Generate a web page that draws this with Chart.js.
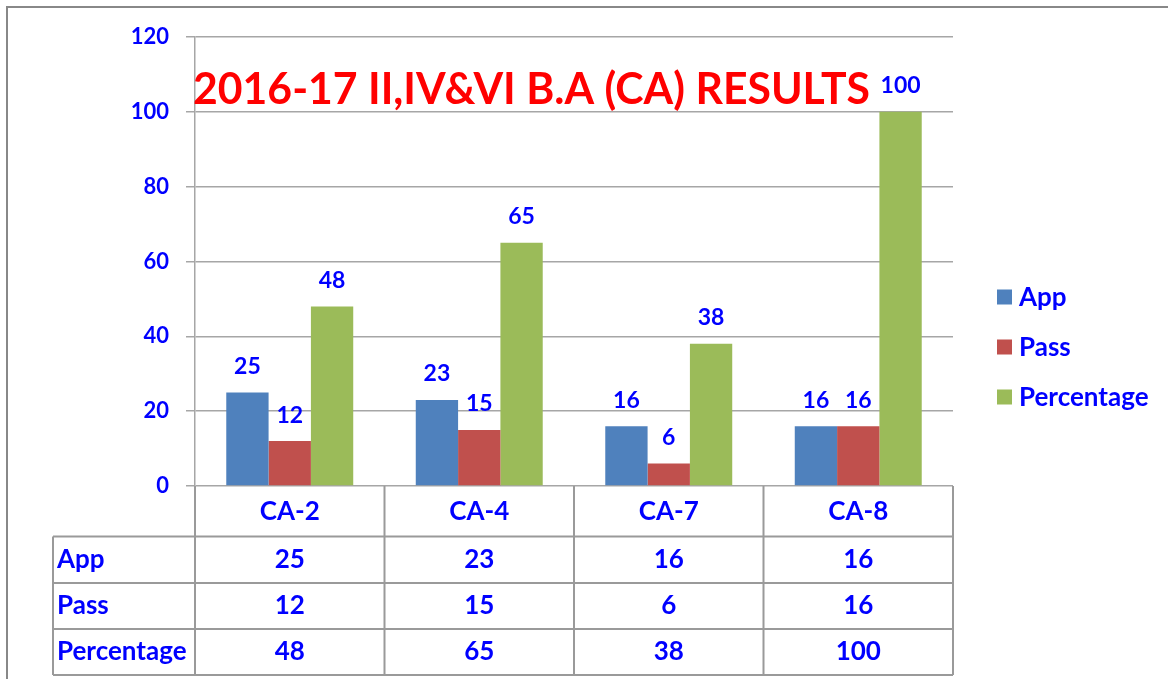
<!DOCTYPE html>
<html>
<head>
<meta charset="utf-8">
<script src="https://cdn.jsdelivr.net/npm/chart.js@4"></script>
<style>
html,body{margin:0;padding:0;background:#fff;}
canvas{display:block;}
</style>
</head>
<body>
<canvas id="c" width="1168" height="679"></canvas>
<script>
const categories = ['CA-2', 'CA-4', 'CA-7', 'CA-8'];
const seriesNames = ['App', 'Pass', 'Percentage'];
const appValues = [25, 23, 16, 16];
const passValues = [12, 15, 6, 16];
const percentageValues = [48, 65, 38, 100];
const yTicks = [0, 20, 40, 60, 80, 100, 120];
const titleText = '2016-17 II,IV&VI B.A (CA) RESULTS';

const FONT = 'Lato, "Open Sans", sans-serif';
const BLUE = '#0000FF';
const GRID = '#A6A6A6';
const TABLE_LINE = '#9A9A9A';

const frame = {
  id: 'frame',
  beforeDraw(chart) {
    const ctx = chart.ctx;
    ctx.save();
    ctx.fillStyle = '#fff';
    ctx.fillRect(0, 0, chart.width, chart.height);
    ctx.strokeStyle = '#888';
    ctx.lineWidth = 2;
    ctx.beginPath();
    ctx.moveTo(7, chart.height);
    ctx.lineTo(7, 7);
    ctx.lineTo(chart.width, 7);
    ctx.stroke();
    ctx.restore();
  }
};

const dataLabels = {
  id: 'dataLabels',
  afterDatasetsDraw(chart) {
    const ctx = chart.ctx;
    ctx.save();
    ctx.fillStyle = BLUE;
    ctx.font = 'bold 23px ' + FONT;
    ctx.textAlign = 'center';
    ctx.textBaseline = 'middle';
    chart.data.datasets.forEach((ds, di) => {
      chart.getDatasetMeta(di).data.forEach((el, i) => {
        ctx.fillText(String(ds.data[i]), el.x, el.y - 26);
      });
    });
    ctx.restore();
  }
};

const titlePlugin = {
  id: 'titlePlugin',
  afterDraw(chart) {
    const ctx = chart.ctx;
    ctx.save();
    ctx.font = 'bold 44px ' + FONT;
    ctx.fillStyle = '#FF0000';
    ctx.textBaseline = 'alphabetic';
    const w = ctx.measureText(titleText).width;
    const target = 677;
    const left = chart.chartArea.left - 2;
    ctx.translate(left, 104);
    ctx.scale(target / w, 1);
    ctx.fillText(titleText, 0, 0);
    ctx.restore();
  }
};

const legendPlugin = {
  id: 'customLegend',
  afterDraw(chart) {
    const ctx = chart.ctx;
    ctx.save();
    ctx.font = 'bold 26px ' + FONT;
    ctx.textBaseline = 'middle';
    ctx.textAlign = 'left';
    const x0 = chart.chartArea.right + 44;
    chart.data.datasets.forEach((ds, i) => {
      const cy = 297 + i * 50;
      ctx.fillStyle = ds.backgroundColor;
      ctx.fillRect(x0, cy - 7.5, 15, 15);
      ctx.fillStyle = BLUE;
      ctx.fillText(ds.label, x0 + 22, cy + 1);
    });
    ctx.restore();
  }
};

const tablePlugin = {
  id: 'dataTable',
  afterDraw(chart) {
    const ctx = chart.ctx;
    const x = chart.scales.x;
    const area = chart.chartArea;
    const n = chart.data.labels.length;
    const cw = (area.right - area.left) / n;
    const top = area.bottom;
    const rowH = [50.5, 46.5, 46, 46];
    const rowY = [top];
    rowH.forEach(h => rowY.push(rowY[rowY.length - 1] + h));
    const labelLeft = 53;
    ctx.save();
    ctx.strokeStyle = TABLE_LINE;
    ctx.lineWidth = 2;
    ctx.beginPath();
    for (let i = 0; i <= n; i++) {
      const px = area.left + i * cw;
      ctx.moveTo(px, top);
      ctx.lineTo(px, rowY[rowY.length - 1]);
    }
    ctx.moveTo(labelLeft, rowY[1]);
    ctx.lineTo(labelLeft, rowY[rowY.length - 1]);
    for (let r = 1; r < rowY.length; r++) {
      ctx.moveTo(labelLeft, rowY[r]);
      ctx.lineTo(area.right, rowY[r]);
    }
    ctx.stroke();

    ctx.fillStyle = BLUE;
    ctx.font = 'bold 26px ' + FONT;
    ctx.textBaseline = 'middle';
    ctx.textAlign = 'center';
    chart.data.labels.forEach((lab, i) => {
      const cx = x.getPixelForValue(i);
      ctx.fillText(lab, cx, (rowY[0] + rowY[1]) / 2);
    });
    chart.data.datasets.forEach((ds, di) => {
      const cy = (rowY[di + 1] + rowY[di + 2]) / 2;
      ctx.textAlign = 'left';
      ctx.fillText(ds.label, 57, cy);
      ctx.textAlign = 'center';
      ds.data.forEach((v, i) => {
        ctx.fillText(String(v), x.getPixelForValue(i), cy);
      });
    });
    ctx.restore();
  }
};

new Chart(document.getElementById('c'), {
  type: 'bar',
  data: {
    labels: categories,
    datasets: [
      { label: seriesNames[0], data: appValues, backgroundColor: '#4F81BD' },
      { label: seriesNames[1], data: passValues, backgroundColor: '#C0504D' },
      { label: seriesNames[2], data: percentageValues, backgroundColor: '#9BBB59' }
    ]
  },
  options: {
    responsive: false,
    animation: false,
    devicePixelRatio: 1,
    layout: { padding: { left: 0, right: 215, top: 37, bottom: 193 } },
    datasets: { bar: { categoryPercentage: 0.67, barPercentage: 1.0 } },
    plugins: {
      legend: { display: false },
      title: { display: false },
      tooltip: { enabled: false }
    },
    scales: {
      x: {
        display: false,
        offset: true
      },
      y: {
        min: 0,
        max: 120,
        afterBuildTicks(scale) { scale.ticks = yTicks.map(v => ({ value: v })); },
        afterFit(scale) { scale.width = 195; },
        ticks: {
          color: BLUE,
          font: { family: FONT, size: 22, weight: 'bold' },
          padding: 17
        },
        grid: {
          color: GRID,
          lineWidth: 1.5,
          tickLength: 9,
          drawTicks: true
        },
        border: { display: true, color: GRID, width: 1.5 }
      }
    }
  },
  plugins: [frame, dataLabels, titlePlugin, legendPlugin, tablePlugin]
});
</script>
</body>
</html>
